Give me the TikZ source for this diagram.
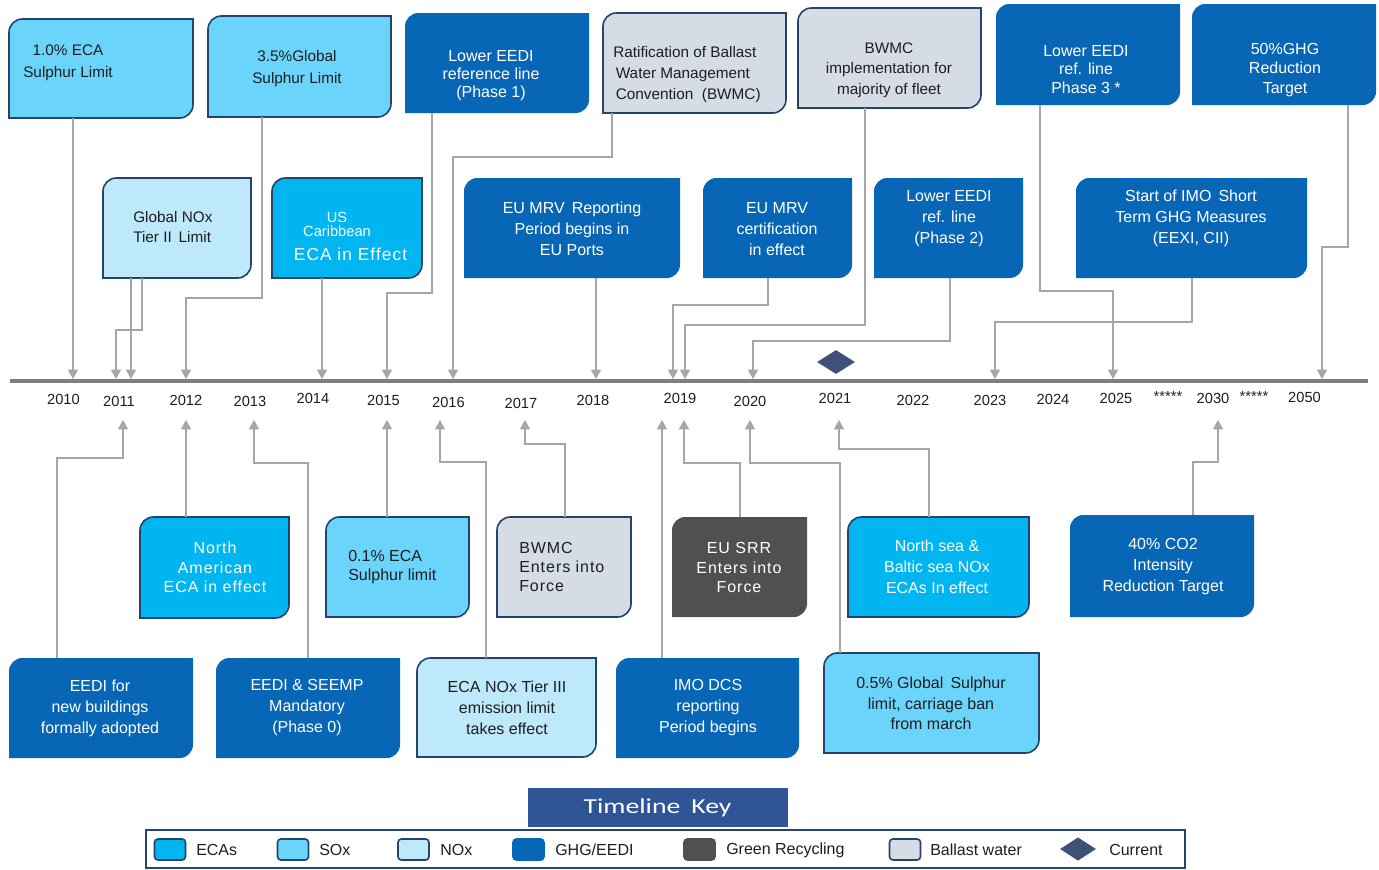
\documentclass[tikz,border=0pt]{standalone}
\usepackage{fontspec}
\setmainfont{Liberation Sans}
\newfontfamily\keyfont{Carlito}
\usetikzlibrary{arrows.meta,calc,fit,shapes.geometric}
\definecolor{ecaC}{HTML}{00B5F0}
\definecolor{soxC}{HTML}{6AD4FB}
\definecolor{noxC}{HTML}{BEE9FB}
\definecolor{ghgC}{HTML}{0766B6}
\definecolor{recC}{HTML}{505050}
\definecolor{balC}{HTML}{D6DCE5}
\definecolor{bordC}{HTML}{24446C}
\definecolor{lineC}{HTML}{A6A6A6}
\definecolor{axisC}{HTML}{7F7F7F}
\definecolor{diaC}{HTML}{3E5178}
\definecolor{keyC}{HTML}{2F5597}
\definecolor{txtC}{HTML}{1E1E1E}
\newcommand\spaced{\addfontfeature{LetterSpace=6}}
\tikzset{
  evtext/.style={inner sep=0pt, align=center, font=\fontsize{12}{15.5}\selectfont},
  ecas/.style={fill=ecaC, draw=bordC, line width=1.2pt},
  ecastxt/.style={text=white},
  sox/.style={fill=soxC, draw=bordC, line width=1.2pt},
  soxtxt/.style={text=txtC},
  nox/.style={fill=noxC, draw=bordC, line width=1.2pt},
  noxtxt/.style={text=txtC},
  ghg/.style={fill=ghgC},
  ghgtxt/.style={text=white},
  rec/.style={fill=recC},
  rectxt/.style={text=white},
  bal/.style={fill=balC, draw=bordC, line width=1.2pt},
  baltxt/.style={text=txtC},
  conn/.style={draw=lineC, line width=1.1pt, -{Triangle[width=7.5pt,length=7pt]}},
  year/.style={inner sep=0pt, text=txtC, font=\fontsize{11}{13}\selectfont},
  swatch/.style={rounded corners=2.5pt, minimum width=23.25pt, minimum height=15.75pt, inner sep=0pt, line width=1.2pt},
  keytext/.style={anchor=west, inner sep=0pt, text=txtC, font=\fontsize{12}{14}\selectfont},
  curmark/.style={diamond, fill=diaC, minimum width=28.5pt, minimum height=18pt, inner sep=0pt}
}
% name, x1, y1, x2, y2, kind, text position, text options, text
\newcommand\evbox[9]{%
  \path (#2,#3) coordinate (#1-a) (#4,#5) coordinate (#1-b);
  \node[fit=(#1-a)(#1-b), inner sep=0pt, outer sep=0pt] (#1) {};
  \path[#6] (#1.south) -- (#1.south west) -- ([yshift=-10pt]#1.north west)
     .. controls ([yshift=-4.5pt]#1.north west) and ([xshift=4.5pt]#1.north west) .. ([xshift=10pt]#1.north west)
     -- (#1.north east) -- ([yshift=10pt]#1.south east)
     .. controls ([yshift=4.5pt]#1.south east) and ([xshift=-4.5pt]#1.south east) .. ([xshift=-10pt]#1.south east)
     -- cycle;
  \node[evtext, #6txt, #8] (#1-t) at (#7) {#9};
}
\begin{document}
\begin{tikzpicture}[x=0.75pt, y=-0.75pt]
\fill[white] (0,0) rectangle (1379,869);
\useasboundingbox (0,0) rectangle (1379,869);

% ---------- top boxes ----------
\evbox{b1}{9}{19}{193}{118}{sox}{68,63}{font=\fontsize{11.5}{16.5}\selectfont}{1.0\% ECA\\Sulphur Limit}
\evbox{b2}{208}{16}{391}{117}{sox}{297,68.5}{font=\fontsize{11.5}{16}\selectfont}{3.5\%Global\\Sulphur Limit}
\evbox{b3}{405}{13}{589}{113}{ghg}{491,76}{font=\fontsize{12}{13.5}\selectfont}{Lower EEDI\\reference line\\(Phase 1)}
\evbox{b4}{603}{13}{786}{113}{bal}{613,74.5}{anchor=west, align=left, font=\fontsize{11.5}{16}\selectfont}{Ratification of Ballast\\\,Water Management\\\,Convention\ \ (BWMC)}
\evbox{b5}{798}{8}{981}{108}{bal}{889,70}{font=\fontsize{11.5}{15.4}\selectfont}{BWMC\\implementation for\\majority of fleet}
\evbox{b6}{996}{4}{1180}{105}{ghg}{1086,69.5}{font=\fontsize{12}{13.9}\selectfont}{Lower EEDI\\ref. line\\Phase 3 *}
\evbox{b7}{1192}{4}{1376}{105}{ghg}{1285,70}{font=\fontsize{12}{14.6}\selectfont}{50\%GHG\\Reduction\\Target}

% ---------- second row ----------
\evbox{b8}{103}{178}{251}{278}{nox}{133,227}{anchor=west, align=left, font=\fontsize{11.5}{15}\selectfont}{Global NOx\\Tier II\, Limit}
\evbox{b9}{272}{178}{422}{278}{ecas}{337,224}{font=\fontsize{11}{10.5}\selectfont}{US\\Caribbean}
\node[evtext, text=white, font=\fontsize{13}{15}\selectfont\spaced] (b9-t2) at (350.5,254) {ECA in Effect};
\evbox{b10}{464}{178}{680}{278}{ghg}{572,229}{font=\fontsize{12}{15.75}\selectfont}{EU MRV\, Reporting\\Period begins in\\EU Ports}
\evbox{b11}{703}{178}{852}{278}{ghg}{777,229}{font=\fontsize{12}{15.75}\selectfont}{EU MRV\\certification\\in effect}
\evbox{b12}{874}{178}{1023}{278}{ghg}{949,218.5}{font=\fontsize{12}{16}\selectfont}{Lower EEDI\\ref. line\\(Phase 2)}
\evbox{b13}{1076}{178}{1307}{278}{ghg}{1191,218.5}{font=\fontsize{12}{16}\selectfont}{Start of IMO\, Short\\Term GHG Measures\\(EEXI, CII)}

% ---------- lower rows ----------
\evbox{b14}{140}{517}{289}{618}{ecas}{215,567.5}{font=\fontsize{12}{14.6}\selectfont\spaced}{North\\American\\ECA in effect}
\evbox{b15}{326}{517}{469}{617}{sox}{348,567.5}{anchor=west, align=left, font=\fontsize{12}{14.3}\selectfont}{0.1\% ECA\\Sulphur limit}
\evbox{b16}{497}{517}{631}{617}{bal}{519,567}{anchor=west, align=left, font=\fontsize{12}{14.3}\selectfont\spaced}{BWMC\\Enters into\\Force}
\evbox{b17}{672}{517}{807}{617}{rec}{739,567.5}{font=\fontsize{12}{14.6}\selectfont\spaced}{EU SRR\\Enters into\\Force}
\evbox{b18}{848}{517}{1029}{617}{ecas}{937,567}{font=\fontsize{12}{15.75}\selectfont}{North sea \&\\Baltic sea NOx\\ECAs In effect}
\evbox{b19}{1070}{515}{1254}{617}{ghg}{1163,567}{font=\fontsize{12}{15.75}\selectfont}{40\% CO2\\Intensity\\Reduction Target}
\evbox{b20}{9}{658}{193}{758}{ghg}{100,708}{font=\fontsize{12}{15.75}\selectfont}{EEDI for\\new buildings\\formally adopted}
\evbox{b21}{216}{658}{400}{758}{ghg}{307,708}{font=\fontsize{12}{15.75}\selectfont}{EEDI \& SEEMP\\Mandatory\\(Phase 0)}
\evbox{b22}{417}{658}{596}{757}{nox}{507,708}{font=\fontsize{12}{15.75}\selectfont}{ECA NOx Tier III\\emission limit\\takes effect}
\evbox{b23}{616}{658}{799}{758}{ghg}{708,708}{font=\fontsize{12}{15.75}\selectfont}{IMO DCS\\reporting\\Period begins}
\evbox{b24}{824}{653}{1039}{753}{sox}{931,703.5}{font=\fontsize{12}{15.4}\selectfont}{0.5\% Global\, Sulphur\\limit, carriage ban\\from march}

% ---------- timeline ----------
\coordinate (axL) at (10,381);
\coordinate (axR) at (1368,381);
\draw[axisC, line width=3pt] (axL) -- (axR);
\node[curmark] (cur) at (836,362) {};

\node[year] (y2010) at (63.5,399) {2010};
\node[year] (y2011) at (119,401) {2011};
\node[year] (y2012) at (186,400) {2012};
\node[year] (y2013) at (250,401) {2013};
\node[year] (y2014) at (313,398) {2014};
\node[year] (y2015) at (383.5,400) {2015};
\node[year] (y2016) at (448.5,402) {2016};
\node[year] (y2017) at (521,403) {2017};
\node[year] (y2018) at (593,400) {2018};
\node[year] (y2019) at (680,398) {2019};
\node[year] (y2020) at (750,401) {2020};
\node[year] (y2021) at (835,398) {2021};
\node[year] (y2022) at (913,400) {2022};
\node[year] (y2023) at (990,400) {2023};
\node[year] (y2024) at (1053,399) {2024};
\node[year] (y2025) at (1116,398) {2025};
\node[year] (st1) at (1168,396) {*****};
\node[year] (y2030) at (1213,398) {2030};
\node[year] (st2) at (1254,396) {*****};
\node[year] (y2050) at (1304.5,397) {2050};

% arrow end points on the timeline
\coordinate (d2010) at (73,379);
\coordinate (d2011a) at (116,379);
\coordinate (d2011b) at (131,379);
\coordinate (d2012) at (186,379);
\coordinate (d2014) at (322,379);
\coordinate (d2015) at (387,379);
\coordinate (d2016) at (453,379);
\coordinate (d2018) at (596,379);
\coordinate (d2019a) at (673,379);
\coordinate (d2019b) at (685,379);
\coordinate (d2020) at (753,379);
\coordinate (d2023) at (995,379);
\coordinate (d2025) at (1113,379);
\coordinate (d2050) at (1322,379);
\coordinate (u2011) at (123,420);
\coordinate (u2012) at (186,420);
\coordinate (u2013) at (254,420);
\coordinate (u2015) at (387,420);
\coordinate (u2016) at (440,420);
\coordinate (u2017) at (525,420);
\coordinate (u2019a) at (662,420);
\coordinate (u2019b) at (684,420);
\coordinate (u2020) at (750,420);
\coordinate (u2021) at (839,420);
\coordinate (u2030) at (1218,420);

% ---------- connectors from above ----------
\draw[conn] (b1.south -| d2010) -- (d2010);
\draw[conn] (b2.south -| 262,0) -- (262,298) -| (d2012);
\draw[conn] (b8.south -| 142,0) -- (142,330) -| (d2011a);
\draw[conn] (b8.south -| d2011b) -- (d2011b);
\draw[conn] (b9.south -| d2014) -- (d2014);
\draw[conn] (b3.south -| 432,0) -- (432,293) -| (d2015);
\draw[conn] (b4.south -| 612,0) -- (612,157) -| (d2016);
\draw[conn] (b10.south -| d2018) -- (d2018);
\draw[conn] (b11.south -| 768,0) -- (768,305) -| (d2019a);
\draw[conn] (b5.south -| 865,0) -- (865,325) -| (d2019b);
\draw[conn] (b12.south -| 950,0) -- (950,341) -| (d2020);
\draw[conn] (b13.south -| 1192,0) -- (1192,322) -| (d2023);
\draw[conn] (b6.south -| 1040,0) -- (1040,291) -| (d2025);
\draw[conn] (b7.south -| 1348,0) -- (1348,247) -| (d2050);

% ---------- connectors from below ----------
\draw[conn] (b20.north -| 57,0) -- (57,458) -| (u2011);
\draw[conn] (b14.north -| u2012) -- (u2012);
\draw[conn] (b21.north -| 308,0) -- (308,463) -| (u2013);
\draw[conn] (b15.north -| u2015) -- (u2015);
\draw[conn] (b22.north -| 486,0) -- (486,462) -| (u2016);
\draw[conn] (b16.north -| 565,0) -- (565,444) -| (u2017);
\draw[conn] (b23.north -| u2019a) -- (u2019a);
\draw[conn] (b17.north -| 740,0) -- (740,463) -| (u2019b);
\draw[conn] (b24.north -| 840,0) -- (840,463) -| (u2020);
\draw[conn] (b18.north -| 929,0) -- (929,449) -| (u2021);
\draw[conn] (b19.north -| 1193,0) -- (1193,462) -| (u2030);

% ---------- legend ----------
\node[fill=keyC, minimum width=195pt, minimum height=29.25pt, inner sep=0pt] (key) at (657.5,807.5) {};
\node[text=white, inner sep=0pt] (keyt) at (657.5,808) {\scalebox{1.3}[1]{\keyfont\fontsize{16}{18}\selectfont Timeline\, Key}};
\node[draw=bordC, line width=1.5pt, minimum width=779.25pt, minimum height=28.5pt, inner sep=0pt] (legend) at (665.5,848.5) {};
\node[swatch, fill=ecaC, draw=bordC] (k1) at (170,849.5) {};
\node[keytext] (k1t) at (196,850) {ECAs};
\node[swatch, fill=soxC, draw=bordC] (k2) at (293,849.5) {};
\node[keytext] (k2t) at (319,850) {SOx};
\node[swatch, fill=noxC, draw=bordC] (k3) at (413.5,849.5) {};
\node[keytext] (k3t) at (440,850) {NOx};
\node[swatch, fill=ghgC, draw=ghgC] (k4) at (528.5,849.5) {};
\node[keytext] (k4t) at (555,850) {GHG/EEDI};
\node[swatch, fill=recC, draw=recC] (k5) at (699.5,849.5) {};
\node[keytext] (k5t) at (726,850) {Green Recycling};
\node[swatch, fill=balC, draw=bordC] (k6) at (905,849.5) {};
\node[keytext] (k6t) at (930,850) {Ballast water};
\node[curmark, minimum width=27pt, minimum height=17.5pt] (k7) at (1078,849) {};
\node[keytext] (k7t) at (1109,850) {Current};
\end{tikzpicture}
\end{document}
